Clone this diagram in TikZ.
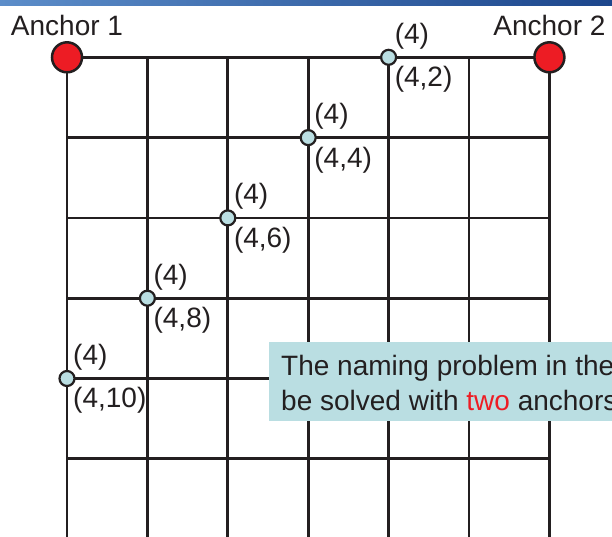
\documentclass[tikz,border=0pt]{standalone}
\usepackage{fontspec}
\setmainfont{Liberation Sans}
\usepackage{xcolor}
\usetikzlibrary{positioning}
\definecolor{inkgray}{RGB}{35,31,32}
\definecolor{dotblue}{RGB}{186,222,226}
\definecolor{anchorred}{RGB}{237,28,36}
\definecolor{barleft}{RGB}{92,141,201}
\definecolor{barright}{RGB}{28,70,140}

\begin{document}
\begin{tikzpicture}[
      x=1pt, y=-1pt,
      every node/.style={font=\fontsize{28}{35}\selectfont, text=inkgray, inner sep=0pt},
      gridrule/.style={draw=inkgray, line width=2.8pt},
      anchordot/.style={circle, draw=inkgray, line width=2.5pt, fill=anchorred, minimum size=30pt},
      namedot/.style={circle, draw=inkgray, line width=2.2pt, fill=dotblue, minimum size=15pt},
      notebox/.style={fill=dotblue, minimum width=360pt, minimum height=79pt},
      tag/.style={inner sep=0pt}
    ]
      \useasboundingbox (0,0) rectangle (612,536);
      \fill[white] (0,0) rectangle (612,536);
      \shade[left color=barleft, right color=barright] (0,0) rectangle (612,5.5);

      \foreach \i in {0,...,6}
        \draw[gridrule] ({67+\i*80.4}, 57.3) -- ({67+\i*80.4}, 540);
      \foreach \j in {0,...,5}
        \draw[gridrule] (67, {57.3+\j*80.3}) -- (549.4, {57.3+\j*80.3});

      \node[notebox, anchor=north west] (note) at (269,342) {};
      \node[anchor=base west] (line1) at (281,375) {The naming problem in the};
      \node[anchor=base west] (line2) at ([yshift=-35pt]line1.base west)
        {be solved with \textcolor{anchorred}{two} anchors};

      \node[anchordot] (a1) at (67,57.3) {};
      \node[anchordot] (a2) at (549.4,57.3) {};
      \node[anchor=base] (t1) at ([yshift=22.3pt]a1.center) {Anchor 1};
      \node[anchor=base] (t2) at ([yshift=22.3pt]a2.center) {Anchor 2};

      \foreach \k in {1,...,5} {
        \pgfmathtruncatemacro\val{2*\k}
        \node[namedot] (d\k) at ({67+80.4*(5-\k)}, {57.3+80.3*(\k-1)}) {};
        \node[tag, anchor=south west] (w\k) at ([xshift=6pt,yshift=8pt]d\k.center) {(4)};
        \node[tag, anchor=north west] (n\k) at ([xshift=6pt,yshift=-9pt]d\k.center) {(4,\val)};
      }
    \end{tikzpicture}
\end{document}
